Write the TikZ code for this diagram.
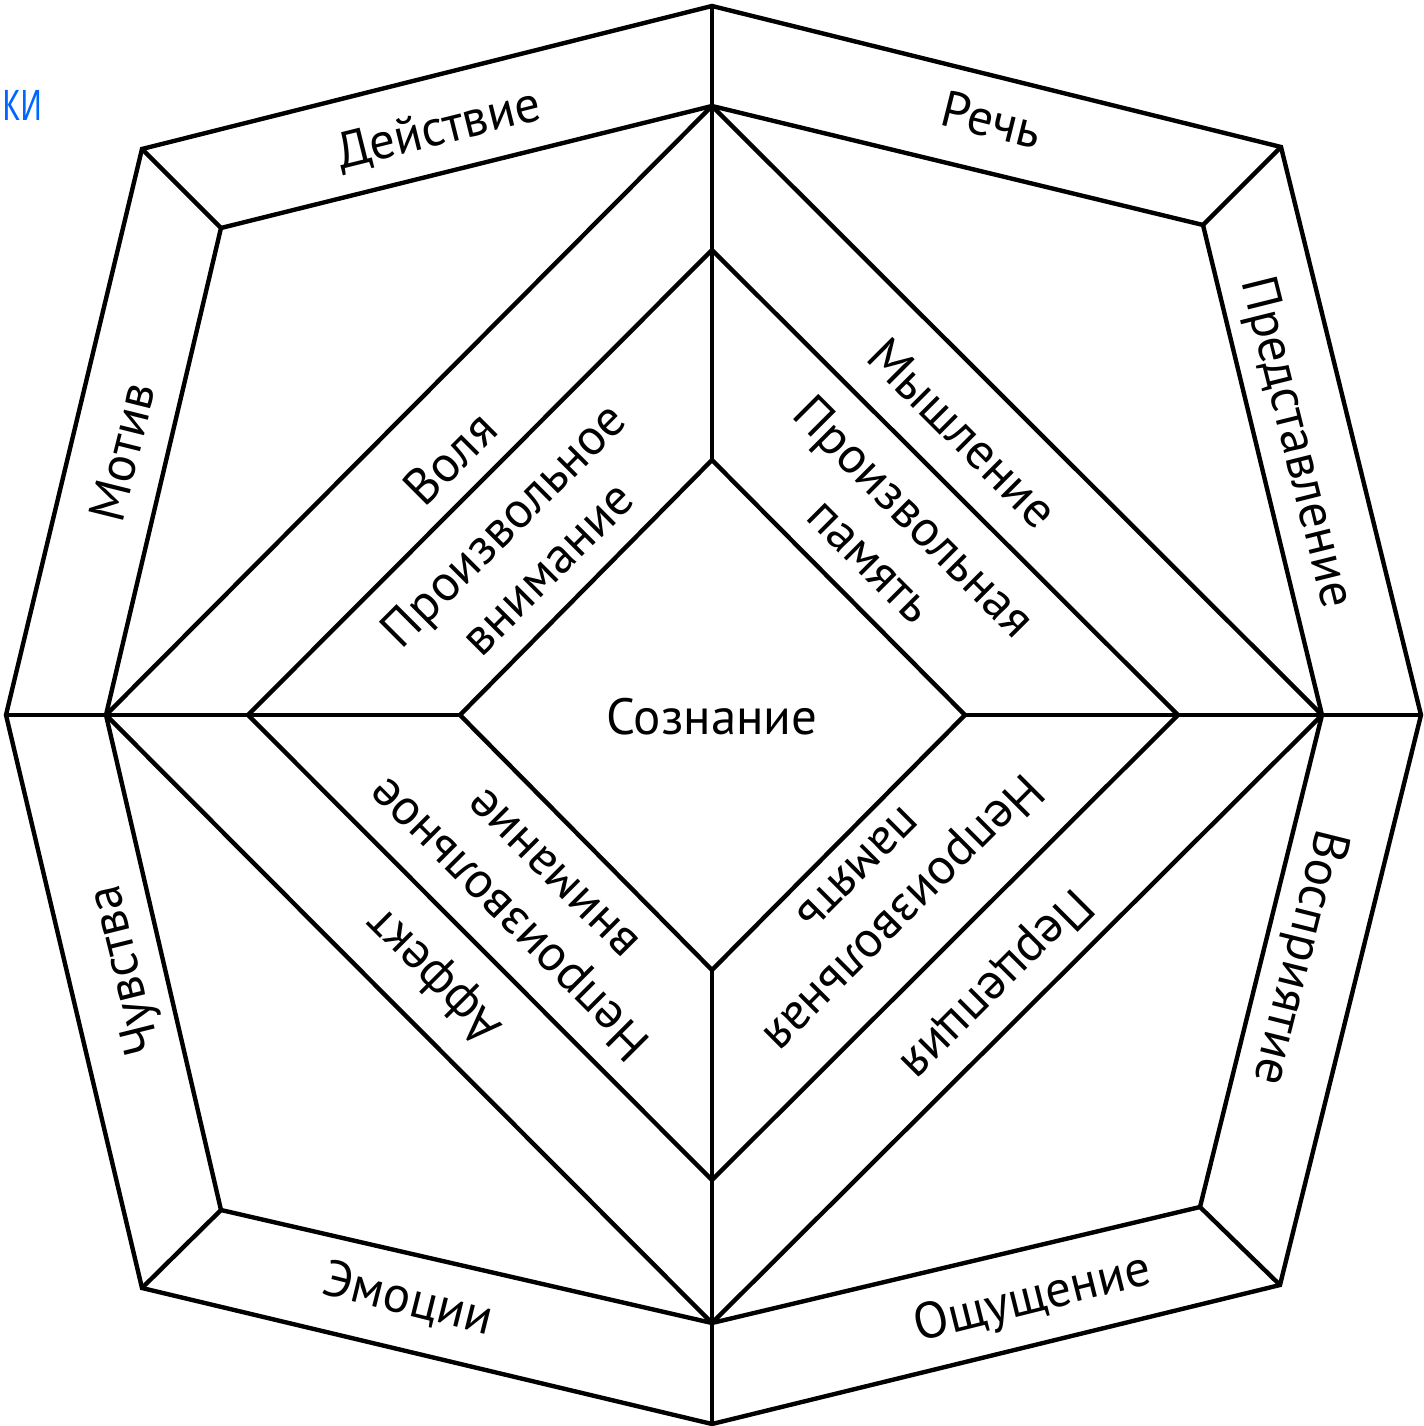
\documentclass[tikz,border=0pt]{standalone}
\usepackage{fontspec}
\setmainfont{PT Sans}
\newfontfamily\uifont{Open Sans}
\definecolor{linkblue}{RGB}{0,102,255}

\begin{document}
\begin{tikzpicture}[line width=1.25pt,line join=miter,
	lbl/.style={font=\fontsize{14.5}{17.6}\selectfont,inner sep=0pt,align=center}]
\useasboundingbox (-7.12,-7.11) rectangle (7.11,7.15);
\coordinate (o1) at (0,7.09);
\coordinate (o2) at (5.69,5.68);
\coordinate (o3) at (7.09,0);
\coordinate (o4) at (5.68,-5.70);
\coordinate (o5) at (0,-7.09);
\coordinate (o6) at (-5.70,-5.73);
\coordinate (o7) at (-7.06,0);
\coordinate (o8) at (-5.70,5.66);
\coordinate (i1) at (0,6.09);
\coordinate (i2) at (4.91,4.90);
\coordinate (i3) at (6.10,0);
\coordinate (i4) at (4.88,-4.92);
\coordinate (i5) at (0,-6.08);
\coordinate (i6) at (-4.91,-4.95);
\coordinate (i7) at (-6.06,0);
\coordinate (i8) at (-4.91,4.87);
\coordinate (d1) at (0,4.65);
\coordinate (d3) at (4.66,0);
\coordinate (d5) at (0,-4.65);
\coordinate (d7) at (-4.64,0);
\coordinate (c1) at (0,2.55);
\coordinate (c3) at (2.53,0);
\coordinate (c5) at (0,-2.55);
\coordinate (c7) at (-2.52,0);

\draw (o1) -- (o2) -- (o3) -- (o4) -- (o5) -- (o6) -- (o7) -- (o8) -- cycle;
\draw (i1) -- (i2) -- (i3) -- (i4) -- (i5) -- (i6) -- (i7) -- (i8) -- cycle;
\draw (i1) -- (i3) -- (i5) -- (i7) -- cycle;
\draw (d1) -- (d3) -- (d5) -- (d7) -- cycle;
\draw (c1) -- (c3) -- (c5) -- (c7) -- cycle;
\foreach \k in {1,3,5,7} \draw (o\k) -- (c\k);
\foreach \k in {2,4,6,8} \draw (o\k) -- (i\k);

\node[lbl,rotate=14]   (dejstvie) at (-2.73,5.85)  {Действие};
	\node[lbl,rotate=-14]  (rech)     at (2.80,5.95)   {Речь};
	\node[lbl,rotate=-76]  (predst)   at (5.83,2.72)   {Представление};
	\node[lbl,rotate=-104] (vospr)    at (5.86,-2.42)  {Восприятие};
	\node[lbl,rotate=14]   (oshch)    at (3.21,-5.85)  {Ощущение};
	\node[lbl,rotate=-14]  (emocii)   at (-3.04,-5.85) {Эмоции};
	\node[lbl,rotate=104]  (chuvstva) at (-5.85,-2.55) {Чувства};
	\node[lbl,rotate=76]   (motiv)    at (-5.90,2.63)  {Мотив};

\node[lbl,rotate=45]  (volya)  at (-2.62,2.57)  {Воля};
\node[lbl,rotate=45]  (pvnim)  at (-1.87,1.69)  {Произвольное\\внимание};
\node[lbl,rotate=-45] (myshl)  at (2.51,2.82)   {Мышление};
\node[lbl,rotate=-45] (ppam)   at (1.81,1.77)   {Произвольная\\память};
\node[lbl,rotate=225] (perc)   at (2.83,-2.68)  {Перцепция};
\node[lbl,rotate=225] (npam)   at (1.71,-1.78)  {Непроизвольная\\память};
\node[lbl,rotate=135] (affekt) at (-2.77,-2.60) {Аффект};
\node[lbl,rotate=135] (nvnim)  at (-1.83,-1.83) {Непроизвольное\\внимание};
\node[lbl]            (soznanie) at (0,-0.02)   {Сознание};

\node[font=\uifont\fontsize{16}{19}\selectfont,text=linkblue,anchor=base west,inner sep=0pt] (ki) at (-7.12,5.94) {\scalebox{0.62}[1]{ки}};
\end{tikzpicture}
\end{document}
